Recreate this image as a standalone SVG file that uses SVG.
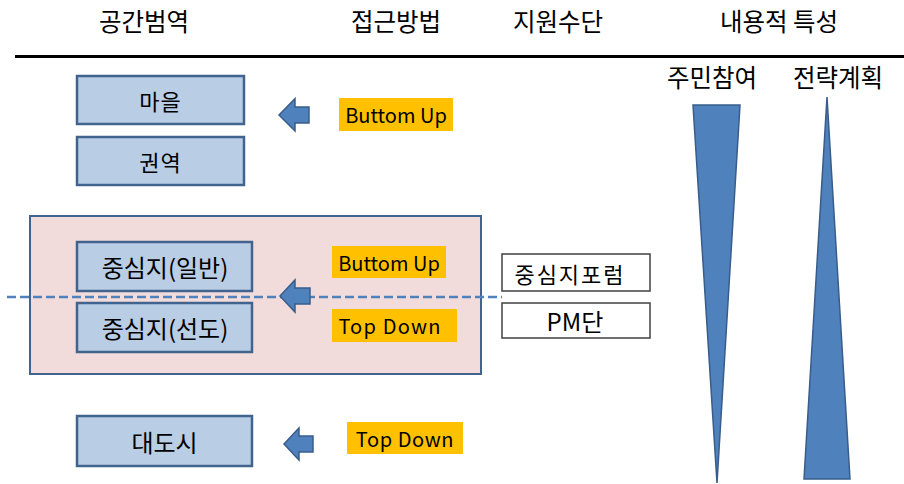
<svg xmlns="http://www.w3.org/2000/svg" width="904" height="484" viewBox="0 0 904 484">
<style>
text{font-family:"Noto Sans CJK KR","Noto Sans",sans-serif;fill:#000;text-anchor:middle;dominant-baseline:central}
.h{font-size:24.5px}
.b{font-size:22px}
.c{font-size:24px}
.e{font-size:20px}
.blue{fill:#b9cde5;stroke:#41648f;stroke-width:2.5}
.tag{fill:#ffc000}
.arr{fill:#4f81bd;stroke:#385d8a;stroke-width:1.5}
.wb{fill:#fff;stroke:#404040;stroke-width:1.5}
.tri{fill:#4f81bd;stroke:#385d8a;stroke-width:1.5}
</style>
<rect width="904" height="484" fill="#fff"/>
<g id="headers">
<text class="h" x="144" y="20">공간범역</text>
<text class="h" x="396" y="20">접근방법</text>
<text class="h" x="558" y="20">지원수단</text>
<text class="h" x="779" y="20">내용적 특성</text>
<line x1="15" y1="56.5" x2="904" y2="56.5" stroke="#000" stroke-width="3"/>
<text class="h" x="712" y="76">주민참여</text>
<text class="h" x="838" y="76">전략계획</text>
</g>
<g id="center-area">
<rect x="30" y="216" width="451" height="158" fill="#f2dcdb" stroke="#41648f" stroke-width="2"/>
</g>
<g id="node-maeul"><rect class="blue" x="77" y="76" width="167" height="48"/><text class="b" x="160.5" y="100" letter-spacing="1">마을</text></g>
<g id="node-gwonyeok"><rect class="blue" x="77" y="137" width="167" height="48"/><text class="b" x="160.5" y="161" letter-spacing="1">권역</text></g>
<g id="node-center-general"><rect class="blue" x="77" y="242" width="175" height="49"/><text class="c" x="165" y="266.5">중심지(일반)</text></g>
<g id="node-center-lead"><rect class="blue" x="77" y="303" width="175" height="49"/><text class="c" x="165" y="327.5">중심지(선도)</text></g>
<g id="node-metro"><rect class="blue" x="77" y="416" width="175" height="50"/><text class="c" x="164.5" y="441">대도시</text></g>
<g id="tag-bu1"><rect class="tag" x="339" y="98" width="114" height="33"/><text class="e" x="396" y="114.5">Buttom Up</text></g>
<g id="tag-bu2"><rect class="tag" x="332" y="246" width="114" height="32"/><text class="e" x="389" y="262">Buttom Up</text></g>
<g id="tag-td2"><rect class="tag" x="332" y="309" width="125" height="33"/><text class="e" x="390" y="325.5" letter-spacing="1.2">Top Down</text></g>
<g id="tag-td3"><rect class="tag" x="347" y="422" width="116" height="32"/><text class="e" x="405" y="438" letter-spacing="0.6">Top Down</text></g>
<g id="node-forum"><rect class="wb" x="502" y="254" width="148" height="37"/><text class="b" x="570" y="272.5" letter-spacing="2">중심지포럼</text></g>
<g id="node-pm"><rect class="wb" x="502" y="303" width="148" height="35"/><text class="c" x="575" y="320.5">PM단</text></g>
<g id="connectors">
<line x1="7" y1="297" x2="502" y2="297" stroke="#4f81bd" stroke-width="2.5" stroke-dasharray="9,4"/>
<path class="arr" d="M279,115 L295,98.5 L295,107 L309,107 L309,123 L295,123 L295,131 Z"/>
<path class="arr" d="M280,296 L295,280 L295,288 L310,288 L310,304 L295,304 L295,312 Z"/>
<path class="arr" d="M284,444 L299,428 L299,436 L313,436 L313,452 L299,452 L299,460 Z"/>
</g>
<g id="tri-participation"><path class="tri" d="M693,105 L740,105 L717,483 Z"/></g>
<g id="tri-strategy"><path class="tri" d="M827,97 L850,479 L804,479 Z"/></g>
</svg>
